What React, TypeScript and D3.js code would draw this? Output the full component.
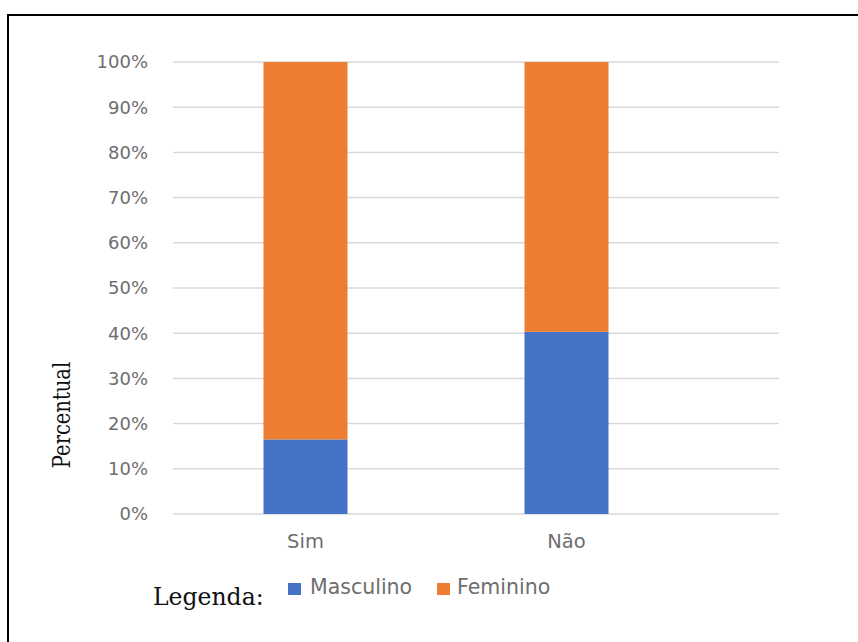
import React from "react";
import * as d3 from "d3";

// Stacked percentage of answers by sex
const categories = ["Sim", "Não"];
const masculino = [0.165, 0.403];
const feminino = [0.835, 0.597];
const seriesNames = ["Masculino", "Feminino"];
const seriesColors = ["#4472c4", "#ed7d31"];
const yTicks = [0, 0.1, 0.2, 0.3, 0.4, 0.5, 0.6, 0.7, 0.8, 0.9, 1.0];

const W = 858;
const H = 642;

export default function App() {
  const y = d3.scaleLinear().domain([0, 1]).range([514, 62]);
  const x = d3.scaleBand<string>().domain(categories).range([175, 697]).padding(0);
  const barW = 84;
  const gridX0 = 173;
  const gridX1 = 779;
  const fmt = d3.format(".0%");

  const rows = categories.map((c, i) => ({ cat: c, Masculino: masculino[i], Feminino: feminino[i] }));
  const stacked = d3.stack<any>().keys(seriesNames)(rows);

  const sans = "'DejaVu Sans', sans-serif";
  const serif = "'DejaVu Serif', serif";
  const gray = "#6e6e6e";

  return (
    <svg
      width={W}
      height={H}
      style={{ position: "fixed", left: 0, top: 0, background: "#fff" }}
    >
      <rect x={0} y={0} width={W} height={H} fill="#fff" />
      {/* frame */}
      <rect x={8} y={15} width={900} height={700} fill="none" stroke="#000" strokeWidth={2} />

      {/* gridlines */}
      {yTicks.map((t) => (
        <line key={t} x1={gridX0} x2={gridX1} y1={y(t)} y2={y(t)} stroke="#d9d9d9" strokeWidth={1.5} />
      ))}

      {/* y tick labels */}
      {yTicks.map((t) => (
        <text
          key={"l" + t}
          x={148}
          y={y(t)}
          dy="0.36em"
          textAnchor="end"
          fontFamily={sans}
          fontSize={18}
          fill={gray}
        >
          {fmt(t)}
        </text>
      ))}

      {/* bars */}
      {stacked.map((s, si) => (
        <g key={s.key} fill={seriesColors[si]}>
          {s.map((d: any, i: number) => {
            const cx = (x(categories[i]) as number) + x.bandwidth() / 2;
            return (
              <rect
                key={i}
                x={cx - barW / 2}
                y={y(d[1])}
                width={barW}
                height={y(d[0]) - y(d[1])}
              />
            );
          })}
        </g>
      ))}

      {/* category labels */}
      {categories.map((c) => (
        <text
          key={c}
          x={(x(c) as number) + x.bandwidth() / 2}
          y={548}
          textAnchor="middle"
          fontFamily={sans}
          fontSize={19.5}
          fill={gray}
        >
          {c}
        </text>
      ))}

      {/* axis title */}
      <text
        transform="translate(70,415) rotate(-90) scale(1,1.2)"
        textAnchor="middle"
        fontFamily={serif}
        fontSize={19.5}
        fill="#111"
      >
        Percentual
      </text>

      {/* legend */}
      <text x={153} y={605} fontFamily={serif} fontSize={23.5} fill="#111">
        Legenda:
      </text>
      <rect x={288} y={583} width={13} height={12} fill={seriesColors[0]} />
      <text x={310} y={594} fontFamily={sans} fontSize={20.5} fill={gray}>
        {seriesNames[0]}
      </text>
      <rect x={437} y={583} width={13} height={12} fill={seriesColors[1]} />
      <text x={457} y={594} fontFamily={sans} fontSize={20.5} fill={gray}>
        {seriesNames[1]}
      </text>
    </svg>
  );
}
